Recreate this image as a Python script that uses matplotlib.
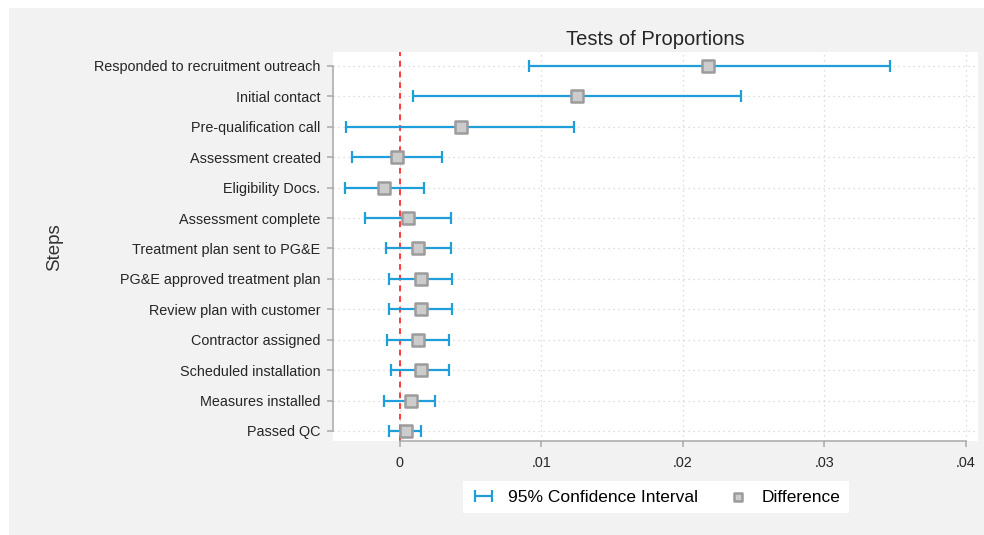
import numpy as np
import matplotlib.pyplot as plt
from matplotlib.patches import Rectangle

plt.rcParams['font.family'] = ['Liberation Sans', 'DejaVu Sans']

steps = ['Responded to recruitment outreach', 'Initial contact', 'Pre-qualification call',
         'Assessment created', 'Eligibility Docs.', 'Assessment complete',
         'Treatment plan sent to PG&E', 'PG&E approved treatment plan',
         'Review plan with customer', 'Contractor assigned', 'Scheduled installation',
         'Measures installed', 'Passed QC']
diff = [0.0218, 0.0125, 0.0043, -0.0002, -0.0011, 0.0006, 0.0013, 0.0015, 0.0015,
        0.0013, 0.0015, 0.0008, 0.0004]
ci_low = [0.0091, 0.0009, -0.0038, -0.0034, -0.0039, -0.0025, -0.0010, -0.0008, -0.0008,
          -0.0009, -0.0006, -0.0011, -0.0008]
ci_high = [0.0346, 0.0241, 0.0123, 0.0030, 0.0017, 0.0036, 0.0036, 0.0037, 0.0037,
           0.0035, 0.0035, 0.0025, 0.0015]
xticks = [0, 0.01, 0.02, 0.03, 0.04]
xtick_labels = ['0', '.01', '.02', '.03', '.04']

blue = '#1f9fd9'
axis_gray = '#a8a8a8'
text_col = '#262626'

fig = plt.figure(figsize=(9.84, 5.35), dpi=100, facecolor='white')
# light gray graph region behind everything
fig.patches.append(Rectangle((9 / 984, 0), 1, 1 - 8 / 535, transform=fig.transFigure,
                             facecolor='#f2f2f2', edgecolor='none', zorder=-10))

ax = fig.add_axes([333 / 984, 1 - 441 / 535, 645 / 984, 389 / 535])
ax.set_facecolor('white')

y = np.arange(len(steps))
d = np.array(diff)
lo = np.array(ci_low)
hi = np.array(ci_high)

ci = ax.errorbar(d, y, xerr=[d - lo, hi - d], fmt='none', ecolor=blue, elinewidth=1.6,
                 capsize=4.5, capthick=1.6, zorder=3, label='95% Confidence Interval')
pts = ax.scatter(d, y, marker='s', s=64, facecolor='#cccccc', edgecolor='#9c9c9c',
                 linewidth=1.8, zorder=4, label='Difference')
ax.axvline(0, color='#ff3b3b', linestyle=(0, (3, 2.5)), linewidth=1.4, zorder=2)

ax.set_xlim(-0.00473, 0.04085)
ax.set_ylim(len(steps) - 1 + 0.33, -0.46)

ax.set_yticks(y)
ax.set_yticklabels(steps, fontsize=10.4, color=text_col)
ax.set_xticks(xticks)
ax.set_xticklabels(xtick_labels, fontsize=10.4, color=text_col)

ax.grid(True, color='#d2d2d2', linestyle=(0, (1, 3)), linewidth=0.9, zorder=0)
ax.set_axisbelow(True)

for s in ['top', 'right']:
    ax.spines[s].set_visible(False)
ax.spines['left'].set_color(axis_gray)
ax.spines['bottom'].set_color(axis_gray)
ax.spines['left'].set_linewidth(1.1)
ax.spines['bottom'].set_linewidth(1.1)
ax.spines['left'].set_bounds(0, len(steps) - 1)
ax.spines['bottom'].set_bounds(0, 0.04)
ax.tick_params(axis='y', color=axis_gray, length=4, width=1.1, pad=5)
ax.tick_params(axis='x', color=axis_gray, length=4, width=1.1, pad=7)

ax.set_title('Tests of Proportions', fontsize=14.5, color=text_col, pad=5)
fig.text(55 / 984, 1 - 247 / 535, 'Steps', rotation=90, fontsize=13.5,
         color='#333333', ha='center', va='center')

leg = fig.legend([ci, pts], ['95% Confidence Interval', 'Difference'], loc='center',
                 bbox_to_anchor=(656 / 984, 1 - 497 / 535), ncol=2,
                 fontsize=12.5, frameon=True, fancybox=False, edgecolor='none',
                 facecolor='white', framealpha=1, handlelength=1.4, markerscale=0.7,
                 columnspacing=1.6, borderpad=0.5, handletextpad=0.7)

fig.savefig('out.png', dpi=100, facecolor=fig.get_facecolor())
